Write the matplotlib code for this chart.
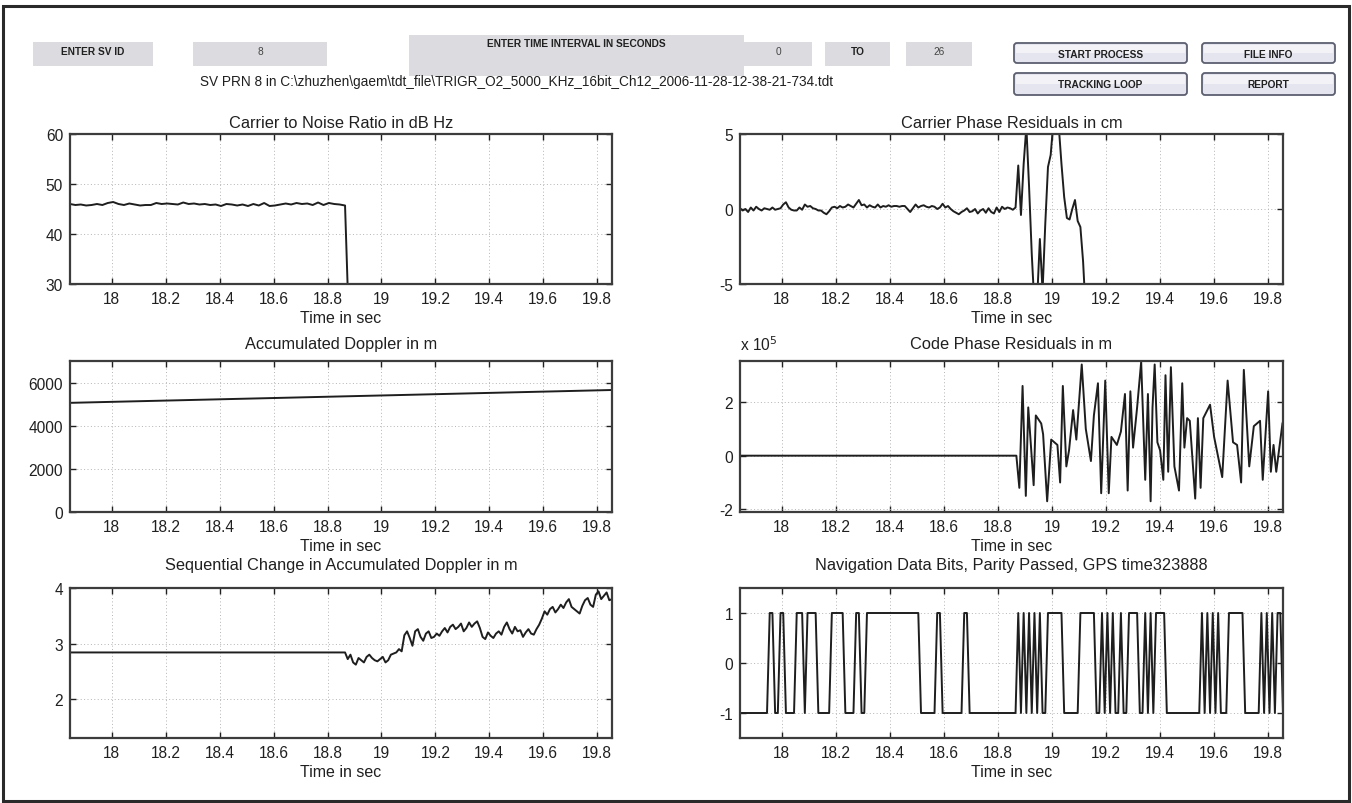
import numpy as np
import matplotlib
matplotlib.use("Agg")
import matplotlib.pyplot as plt
from matplotlib.patches import Rectangle, FancyBboxPatch

plt.rcParams['font.family'] = ['Liberation Sans', 'DejaVu Sans']
plt.rcParams['axes.unicode_minus'] = False

# ---------------- data ----------------
T0 = 17.845
T_END = 19.855
XTICKS = [18, 18.2, 18.4, 18.6, 18.8, 19, 19.2, 19.4, 19.6, 19.8]
XTICKLABELS = ['18', '18.2', '18.4', '18.6', '18.8', '19', '19.2', '19.4', '19.6', '19.8']

# Carrier to noise ratio (dB Hz), 20 ms samples
cn0_dt = 0.02
cn0 = [46.0, 45.8, 45.9, 45.7, 45.8, 46.0, 45.8, 46.2, 46.4, 46.0, 45.8, 46.1, 45.9,
       45.7, 45.8, 45.8, 46.2, 46.0, 46.1, 46.0, 45.9, 46.3, 46.0, 46.1, 45.9, 46.0,
       45.8, 45.9, 45.6, 46.0, 45.9, 45.7, 45.9, 45.6, 46.0, 45.7, 46.2, 45.6, 45.7,
       45.9, 46.1, 45.9, 46.2, 46.0, 46.1, 45.8, 46.3, 45.8, 46.2, 46.0, 45.9, 45.7,
       12.0]

# Carrier phase residuals (cm), 10 ms samples
cp_dt = 0.01
carrier_phase = [
    0.05, -0.1, 0.0, -0.2, 0.1, -0.1, 0.15, 0.0, -0.1, 0.05, 0.0, -0.05, 0.1, -0.05, 0.0, 0.05,
    0.3, 0.45, 0.1, -0.05, -0.1, -0.1, 0.1, -0.05, 0.3, 0.15,
    0.2, 0.05, 0.0, -0.1, -0.1, -0.25, -0.35, -0.15, 0.1, 0.15,
    0.05, 0.2, 0.1, 0.15, 0.3, 0.2, 0.1, 0.35, 0.6, 0.25,
    0.3, 0.1, 0.25, 0.15, 0.1, 0.3, 0.1, 0.2, 0.15, 0.25,
    0.15, 0.2, 0.2, 0.15, 0.2, 0.2, 0.0, -0.2, 0.05, 0.3,
    0.1, 0.2, 0.25, 0.15, 0.1, 0.2, 0.15, 0.0, 0.1, 0.35,
    0.1, 0.2, 0.0, -0.15, -0.25, -0.35, -0.2, -0.1, 0.05, -0.2,
    -0.15, 0.0, -0.3, -0.1, 0.0, -0.25, 0.05, -0.2, -0.3, 0.1,
    -0.2, 0.15, 0.0, 0.1, 0.05, -0.05, 0.1,
    2.9, -0.4, 3.0, 5.5, 1.5, -3.0, -6.5, -6.0, -2.0, -5.5, -1.0, 2.8, 3.6,
    5.8, 6.5, 5.5, 3.0, 0.8, -0.6, -0.7, 0.0, 0.6, -0.8, -1.2, -3.5, -7.0]

# Accumulated Doppler (m)
dop_values = [5060, 5120, 5179, 5239, 5298, 5358, 5417, 5477, 5537, 5596, 5656]

# Code phase residuals (x 1e5 m): flat zero then noisy
code_t = [17.845, 18.868, 18.879, 18.891, 18.903, 18.912, 18.921, 18.932, 18.94, 18.96,
          18.967, 18.982, 18.997, 19.02, 19.03, 19.04, 19.053, 19.063, 19.078, 19.09,
          19.11, 19.125, 19.144, 19.155, 19.17, 19.182, 19.197, 19.21, 19.22, 19.24,
          19.255, 19.27, 19.28, 19.29, 19.30, 19.315, 19.33, 19.345, 19.355, 19.365,
          19.372, 19.38, 19.39, 19.40, 19.412, 19.42, 19.43, 19.44, 19.453, 19.47,
          19.482, 19.49, 19.50, 19.51, 19.53, 19.54, 19.55, 19.56, 19.585, 19.60,
          19.63, 19.65, 19.67, 19.685, 19.70, 19.71, 19.73, 19.747, 19.77, 19.78,
          19.80, 19.81, 19.82, 19.83, 19.853]
code_v = [0.0, 0.0, -1.2, 2.6, -1.5, 1.8, 0.5, -1.1, 1.5, 1.2,
          0.8, -1.7, 0.6, 0.4, -1.0, 2.6, -0.4, 0.2, 1.7, 0.6,
          3.4, 1.0, -0.2, 1.5, 2.7, -1.4, 2.8, -1.4, 0.7, 0.4,
          0.9, 2.3, -1.3, 2.4, 0.3, 1.8, 3.5, -0.9, 2.3, -1.7,
          1.8, 3.4, 0.5, 0.2, -0.9, 3.0, -0.6, 3.3, -0.4, -1.3,
          2.7, 0.3, 1.4, 1.3, -1.6, 1.4, -1.2, 1.4, 1.9, 0.7,
          -0.8, 2.8, 0.5, 0.4, -1.0, 3.2, -0.4, 1.1, 1.3, -0.9,
          2.4, -0.6, 0.4, -0.6, 1.2]

# Sequential change in accumulated Doppler (m), 10 ms samples
seq_dt = 0.01
seq_flat_value = 2.84
seq_flat_count = 103
seq_noisy = [2.72, 2.80, 2.66, 2.62, 2.74, 2.70, 2.66, 2.76, 2.80, 2.74, 2.70, 2.68, 2.72,
             2.76, 2.66, 2.70, 2.80, 2.82, 2.84, 2.90, 2.86, 3.15, 3.22, 3.10, 2.96, 3.22,
             3.26, 3.12, 3.05, 3.18, 3.22, 3.10, 3.12, 3.18, 3.14, 3.22, 3.28, 3.20, 3.30,
             3.34, 3.26, 3.30, 3.36, 3.22, 3.28, 3.38, 3.30, 3.36, 3.40, 3.28, 3.12, 3.08,
             3.20, 3.14, 3.10, 3.18, 3.22, 3.16, 3.30, 3.38, 3.26, 3.18, 3.30, 3.22, 3.24,
             3.12, 3.20, 3.26, 3.18, 3.16, 3.26, 3.34, 3.45, 3.58, 3.52, 3.62, 3.66, 3.56,
             3.62, 3.70, 3.64, 3.74, 3.80, 3.66, 3.62, 3.58, 3.54, 3.68, 3.78, 3.82, 3.70,
             3.66, 3.88, 3.94, 3.80, 3.86, 3.92, 3.78, 3.80]

# Navigation data bits, run lengths of 10 ms samples: (bit, count)
nav_dt = 0.01
nav_runs = [(-1, 11), (1, 2), (-1, 2), (1, 2), (-1, 4), (1, 3), (-1, 1), (1, 4), (-1, 5),
            (1, 5), (-1, 4), (1, 2), (-1, 2), (1, 20), (-1, 6), (1, 2), (-1, 8), (1, 2),
            (-1, 18),
            (1, 1), (-1, 1), (1, 1), (-1, 1), (1, 1), (-1, 1), (1, 1), (-1, 1), (1, 1), (-1, 2),
            (1, 6), (-1, 6), (1, 6), (-1, 2), (1, 1), (-1, 1), (1, 1), (-1, 1), (1, 1), (-1, 2),
            (1, 1), (-1, 2), (1, 4), (-1, 2), (1, 1), (-1, 1), (1, 1), (-1, 1), (1, 4), (-1, 13),
            (1, 1), (-1, 1), (1, 1), (-1, 1), (1, 1), (-1, 1), (1, 1), (-1, 3), (1, 6), (-1, 6),
            (1, 1), (-1, 1), (1, 1), (-1, 1), (1, 1), (-1, 1), (1, 2), (-1, 1), (1, 1)]

path_text = r"SV PRN 8 in C:\zhuzhen\gaem\tdt_file\TRIGR_O2_5000_KHz_16bit_Ch12_2006-11-28-12-38-21-734.tdt"

# ---------------- figure ----------------
W, H = 1352, 804
fig = plt.figure(figsize=(W / 100, H / 100), dpi=100)
fig.patch.set_facecolor('white')

# overlay for GUI-like header (pixel coordinates)
ov = fig.add_axes([0, 0, 1, 1], zorder=0)
ov.set_xlim(0, W)
ov.set_ylim(H, 0)
ov.axis('off')

ov.add_patch(Rectangle((3, 7), W - 6, H - 9, fill=False, lw=2.2, ec='#2a2a2a'))

BOX = '#dcdce0'
TXT = '#202020'
hdr_font = dict(fontsize=7.3, fontweight='bold', color=TXT, ha='center', va='center')
val_font = dict(fontsize=7.3, color='#444444', ha='center', va='center')


def gray_box(x0, y0, x1, y1):
    ov.add_patch(Rectangle((x0, y0), x1 - x0, y1 - y0, fc=BOX, ec='none'))


gray_box(33, 43, 153, 67)
ov.text(93, 52, 'ENTER SV ID', **hdr_font)
gray_box(193, 43, 327, 67)
ov.text(260, 52, '8', **val_font)
gray_box(409, 36, 744, 77)
ov.text(576, 44, 'ENTER TIME INTERVAL IN SECONDS', **hdr_font)
gray_box(744, 43, 812, 67)
ov.text(778, 52, '0', **val_font)
gray_box(825, 43, 890, 67)
ov.text(858, 52, 'TO', **hdr_font)
gray_box(906, 43, 972, 67)
ov.text(939, 52, '26', **val_font)


def button(x0, y0, x1, y1, label):
    ov.add_patch(FancyBboxPatch((x0, y0), x1 - x0, y1 - y0,
                                boxstyle='round,pad=0,rounding_size=3',
                                fc='#e4e5ee', ec='#5c5f70', lw=1.3))
    ov.add_patch(Rectangle((x0 + 2, y0 + 2), x1 - x0 - 4, (y1 - y0) * 0.4,
                           fc='#f2f2f7', ec='none'))
    ov.text((x0 + x1) / 2, (y0 + y1) / 2 + 0.5, label, **hdr_font)


button(1014, 44, 1187, 64, 'START PROCESS')
button(1202, 44, 1335, 64, 'FILE INFO')
button(1014, 74, 1187, 96, 'TRACKING LOOP')
button(1202, 74, 1335, 96, 'REPORT')

ov.text(517, 82, path_text, fontsize=9.8, color=TXT, ha='center', va='center')

# ---------------- axes ----------------
LINE = dict(color='#1e1e1e', lw=1.4)


def px_axes(x0, y0, x1, y1):
    return fig.add_axes([x0 / W, 1 - y1 / H, (x1 - x0) / W, (y1 - y0) / H], zorder=2)


def style(ax, title, ylim, yticks, title_pad):
    ax.set_xlim(T0, T_END)
    ax.set_ylim(*ylim)
    ax.set_xticks(XTICKS)
    ax.set_xticklabels(XTICKLABELS)
    ax.set_yticks(yticks)
    ax.grid(True, color='#b4b4b4', lw=0.7, ls=(0, (1, 2.5)))
    ax.tick_params(direction='in', top=True, right=True, length=4, width=1,
                   labelsize=11.2, colors=TXT, pad=5)
    for s in ax.spines.values():
        s.set_linewidth(1.6)
        s.set_color('#3c3c3c')
    ax.set_title(title, fontsize=11.8, color=TXT, pad=title_pad)
    ax.set_xlabel('Time in sec', fontsize=11.5, color=TXT, labelpad=3)


LX0, LX1 = 70, 612
RX0, RX1 = 740, 1283
ROWS = [(135, 285), (362, 513), (589, 739)]
PADS = [5, 9, 14]

# 1. CN0
ax = px_axes(LX0, ROWS[0][0], LX1, ROWS[0][1])
t = T0 + cn0_dt * np.arange(len(cn0))
ax.plot(t, cn0, **LINE)
style(ax, 'Carrier to Noise Ratio in dB Hz', (30, 60), [30, 40, 50, 60], PADS[0])

# 2. Carrier phase residuals
ax = px_axes(RX0, ROWS[0][0], RX1, ROWS[0][1])
t = T0 + cp_dt * np.arange(len(carrier_phase))
ax.plot(t, carrier_phase, **LINE)
style(ax, 'Carrier Phase Residuals in cm', (-5, 5), [-5, 0, 5], PADS[0])

# 3. Accumulated Doppler
ax = px_axes(LX0, ROWS[1][0], LX1, ROWS[1][1])
t = np.linspace(T0, T_END, len(dop_values))
ax.plot(t, dop_values, **LINE)
style(ax, 'Accumulated Doppler in m', (0, 7000), [0, 2000, 4000, 6000], PADS[1])

# 4. Code phase residuals
ax = px_axes(RX0, ROWS[1][0], RX1, ROWS[1][1])
ax.plot(code_t, code_v, **LINE)
style(ax, 'Code Phase Residuals in m', (-2.1, 3.53), [-2, 0, 2], PADS[1])
ax.text(0.0, 1.05, r'x 10$^{5}$', transform=ax.transAxes, fontsize=11.2,
        color=TXT, ha='left', va='bottom')

# 5. Sequential change
ax = px_axes(LX0, ROWS[2][0], LX1, ROWS[2][1])
seq = [seq_flat_value] * seq_flat_count + seq_noisy
t = T0 + seq_dt * np.arange(len(seq))
ax.plot(t, seq, **LINE)
style(ax, 'Sequential Change in Accumulated Doppler in m', (1.3, 4), [2, 3, 4], PADS[2])

# 6. Navigation bits
ax = px_axes(RX0, ROWS[2][0], RX1, ROWS[2][1])
bits = np.concatenate([np.full(n, b) for b, n in nav_runs])
t = T0 + nav_dt * np.arange(len(bits))
ax.plot(t, bits, **LINE)
style(ax, 'Navigation Data Bits, Parity Passed, GPS time323888', (-1.5, 1.5), [-1, 0, 1], PADS[2])

fig.savefig('out.png', dpi=100, facecolor='white')
